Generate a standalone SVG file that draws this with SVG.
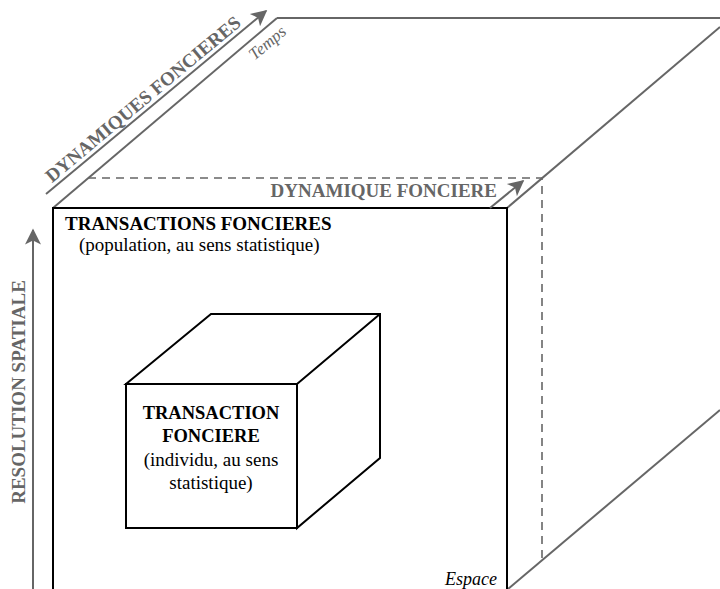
<svg xmlns="http://www.w3.org/2000/svg" width="720" height="589" viewBox="0 0 720 589">
<defs>
<marker id="ahL" viewBox="0 0 10 10" refX="9" refY="5" markerWidth="18" markerHeight="16" markerUnits="userSpaceOnUse" orient="auto">
<path d="M0,0 L10,5 L0,10 L2.5,5 Z" fill="#666"/>
</marker>
<style>
.g{stroke:#666;stroke-width:2;fill:none}
.d{stroke:#666;stroke-width:1.6;fill:none;stroke-dasharray:8,6}
.k{stroke:#000;stroke-width:2;fill:none}
.t{font-family:"Liberation Serif","Times New Roman",serif}
.b{font-weight:bold}
.gt{fill:#666}
.i{font-style:italic}
</style>
</defs>
<rect width="720" height="589" fill="#fff"/>
<g id="outer-cube">
<line class="g" x1="53" y1="208" x2="277" y2="18"/>
<line class="g" x1="277" y1="18" x2="720" y2="18"/>
<line class="g" x1="507" y1="208" x2="720" y2="27"/>
<line class="g" x1="508" y1="589" x2="720" y2="410"/>
<polyline class="d" points="88,178 542,178 542,560"/>
<path class="k" d="M53,589 V208 H507 V589"/>
<text class="t b" x="65" y="230" font-size="19">TRANSACTIONS FONCIERES</text>
<text class="t" x="79" y="251" font-size="19">(population, au sens statistique)</text>
<text class="t i" x="497" y="585" font-size="18" text-anchor="end">Espace</text>
</g>
<g id="inner-cube">
<path class="k" fill="#fff" d="M126,384 L211,314 L380,314 L380,458 L297,528 L297,384 Z M297,384 L380,314"/>
<rect class="k" x="126" y="384" width="171" height="144" fill="#fff"/>
<text class="t b" x="211" y="419" font-size="18.5" text-anchor="middle">TRANSACTION</text>
<text class="t b" x="211" y="442" font-size="18.5" text-anchor="middle">FONCIERE</text>
<text class="t" x="211" y="466" font-size="19" text-anchor="middle">(individu, au sens</text>
<text class="t" x="211" y="489" font-size="19" text-anchor="middle">statistique)</text>
</g>
<g id="axis-labels">
<text class="t b gt" font-size="19" text-anchor="middle" transform="translate(25,392) rotate(-90)">RESOLUTION SPATIALE</text>
<text class="t b gt" font-size="19" text-anchor="middle" transform="translate(147,104) rotate(-39.8)">DYNAMIQUES FONCIERES</text>
<text class="t i gt" font-size="17" text-anchor="middle" transform="translate(271,47) rotate(-40)">Temps</text>
<text class="t b gt" x="497" y="197" font-size="19" text-anchor="end">DYNAMIQUE FONCIERE</text>
</g>
<g id="connectors">
<line class="g" x1="33" y1="589" x2="33" y2="230" marker-end="url(#ahL)"/>
<line class="g" x1="46" y1="194" x2="266" y2="11" marker-end="url(#ahL)"/>
<line class="g" x1="490" y1="208" x2="523" y2="181" marker-end="url(#ahL)"/>
</g>
</svg>
